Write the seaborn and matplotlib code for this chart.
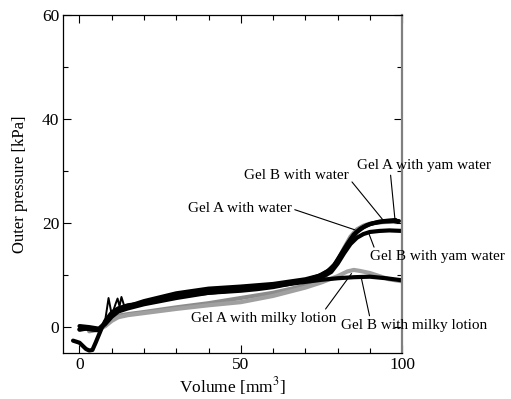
import pandas as pd
import matplotlib.pyplot as plt
from matplotlib.ticker import MultipleLocator
import seaborn as sns

# values (volume in mm^3, outer pressure in kPa)
b_water_x = [-2, -1, 0, 1, 2, 3, 4, 5, 6, 7, 8, 10, 12, 15, 20, 25, 30, 35, 40, 45, 50, 55, 60, 65, 70,
             74, 77, 79, 81, 83, 85, 87, 89, 91, 94, 97, 99]
b_water_y = [-2.6, -2.8, -3.0, -3.6, -4.2, -4.5, -4.4, -3.0, -1.5, 0.0, 1.2, 2.8, 3.6, 4.2, 4.6, 5.2, 5.8,
             6.3, 6.6, 6.8, 7.0, 7.3, 7.7, 8.3, 9.0, 9.8, 10.8, 12.0, 14.0, 16.0, 17.8, 18.9, 19.6, 20.0,
             20.3, 20.4, 20.4]

a_yam_x = [0, 2, 4, 6, 7, 8, 8.5, 9, 9.8, 10.5, 11.2, 11.8, 12.4, 13.0, 13.4, 14, 15, 20, 30, 40, 50,
           60, 70, 75, 78, 80, 82, 84, 86, 88, 90, 93, 96, 98]
a_yam_y = [-0.5, -0.3, -0.5, -0.6, 0.0, 1.5, 3.5, 5.6, 3.0, 3.2, 4.5, 5.5, 4.0, 5.8, 5.0, 3.8, 4.0, 5.0,
           6.5, 7.4, 7.8, 8.3, 9.2, 10.0, 11.2, 12.8, 14.8, 16.8, 18.3, 19.2, 19.8, 20.3, 20.5, 20.6]

b_yam_x = [0, 3, 6, 8, 10, 12, 15, 20, 30, 40, 50, 60, 70, 75, 78, 80, 82, 84, 86, 88, 90, 93, 96, 100]
b_yam_y = [0.2, 0.0, -0.3, 0.8, 2.3, 3.2, 3.8, 4.6, 5.8, 6.8, 7.4, 8.0, 8.9, 9.6, 10.6, 12.2, 14.2, 16.0,
           17.2, 17.9, 18.3, 18.5, 18.6, 18.5]

b_milky_x = [0, 3, 6, 8, 10, 12, 15, 20, 30, 40, 50, 60, 70, 75, 80, 85, 90, 95, 100]
b_milky_y = [-0.4, -0.2, -0.5, 0.6, 2.0, 3.0, 3.6, 4.4, 5.6, 6.6, 7.2, 7.9, 8.7, 9.1, 9.4, 9.6, 9.7, 9.4, 9.0]

a_water_x = [3, 6, 8, 10, 12, 15, 20, 30, 40, 50, 60, 70, 75, 78, 80, 82, 84, 86, 88, 90, 94, 98]
a_water_y = [-0.8, -0.5, 0.3, 1.5, 2.2, 2.5, 2.9, 3.8, 4.6, 5.6, 6.6, 8.0, 9.2, 10.8, 12.8, 15.2, 17.4,
             18.8, 19.5, 19.9, 20.2, 20.3]

a_milky_x = [3, 6, 8, 10, 12, 15, 20, 30, 40, 50, 60, 70, 75, 80, 83, 85, 87, 90, 93, 96, 100]
a_milky_y = [-0.6, -0.4, 0.2, 1.2, 1.9, 2.3, 2.7, 3.5, 4.2, 4.8, 6.0, 7.6, 8.6, 9.8, 10.7, 11.0, 10.8,
             10.4, 9.8, 9.2, 8.8]

series = {
    'Gel A with water': (a_water_x, a_water_y),
    'Gel A with milky lotion': (a_milky_x, a_milky_y),
    'Gel B with water': (b_water_x, b_water_y),
    'Gel A with yam water': (a_yam_x, a_yam_y),
    'Gel B with yam water': (b_yam_x, b_yam_y),
    'Gel B with milky lotion': (b_milky_x, b_milky_y),
}
colors = {
    'Gel A with water': '#8c8c8c',
    'Gel A with milky lotion': '#a0a0a0',
    'Gel B with water': 'black',
    'Gel A with yam water': 'black',
    'Gel B with yam water': 'black',
    'Gel B with milky lotion': 'black',
}

frames = [pd.DataFrame({'volume': x, 'pressure': y, 'sample': name}) for name, (x, y) in series.items()]
df = pd.concat(frames, ignore_index=True)

sns.set_style('ticks')
plt.rcParams['font.family'] = ['Liberation Serif', 'DejaVu Serif']
plt.rcParams['mathtext.fontset'] = 'stix'
plt.rcParams['text.color'] = 'black'
plt.rcParams['axes.labelcolor'] = 'black'

fig = plt.figure(figsize=(5.11, 3.99), dpi=100)
ax = fig.add_axes([0.124, 0.115, 0.663, 0.847])

for name, part in df.groupby('sample', sort=False):
    if name == 'Gel A with yam water':
        # spiky start is a thin trace, the rest a fuzzy band
        pieces = [(part[part.volume <= 6], 3.0), (part[(part.volume >= 6) & (part.volume <= 15)], 1.4),
                  (part[part.volume >= 15], 3.0)]
    else:
        pieces = [(part, 3.0)]
    for piece, lw in pieces:
        sns.lineplot(data=piece, x='volume', y='pressure', color=colors[name],
                     sort=False, estimator=None, linewidth=lw, ax=ax)

ax.set_xlim(-5, 100)
ax.set_ylim(-5, 60)
ax.xaxis.set_major_locator(MultipleLocator(50))
ax.xaxis.set_minor_locator(MultipleLocator(10))
ax.yaxis.set_major_locator(MultipleLocator(20))
ax.yaxis.set_minor_locator(MultipleLocator(10))
ax.tick_params(which='both', direction='in', top=True, right=True, labelsize=12.5,
               width=0.8, colors='black', pad=3)
ax.tick_params(which='major', length=6)
ax.tick_params(which='minor', length=3.5)
for s in ax.spines.values():
    s.set_linewidth(0.9)
    s.set_color('black')
ax.spines['right'].set_color('#808080')
ax.spines['right'].set_linewidth(1.6)

ax.set_xlabel('Volume [mm$^3$]', fontsize=12.5, labelpad=1)
ax.set_ylabel('Outer pressure [kPa]', fontsize=12, labelpad=10)

# annotations: (label, point, text position, relpos)
notes = [
    ('Gel B with water', (94.2, 20.5), (67.2, 29.2), (1.0, 0.3)),
    ('Gel A with yam water', (97.8, 20.5), (106.7, 31.1), (0.25, 0.0)),
    ('Gel A with water', (85.4, 18.7), (49.6, 22.8), (1.0, 0.5)),
    ('Gel B with yam water', (89.5, 18.3), (110.9, 13.5), (0.04, 1.0)),
    ('Gel A with milky lotion', (84.3, 10.3), (57.2, 1.6), (0.9, 0.9)),
    ('Gel B with milky lotion', (87.4, 9.3), (103.7, 0.3), (0.2, 1.0)),
]
for label, xy, xytext, rel in notes:
    ax.annotate(label, xy=xy, xytext=xytext, ha='center', va='center', fontsize=11,
                annotation_clip=False,
                arrowprops=dict(arrowstyle='-', color='black', lw=0.8, relpos=rel,
                                shrinkA=0, shrinkB=0))

plt.savefig('out.png', dpi=100)
